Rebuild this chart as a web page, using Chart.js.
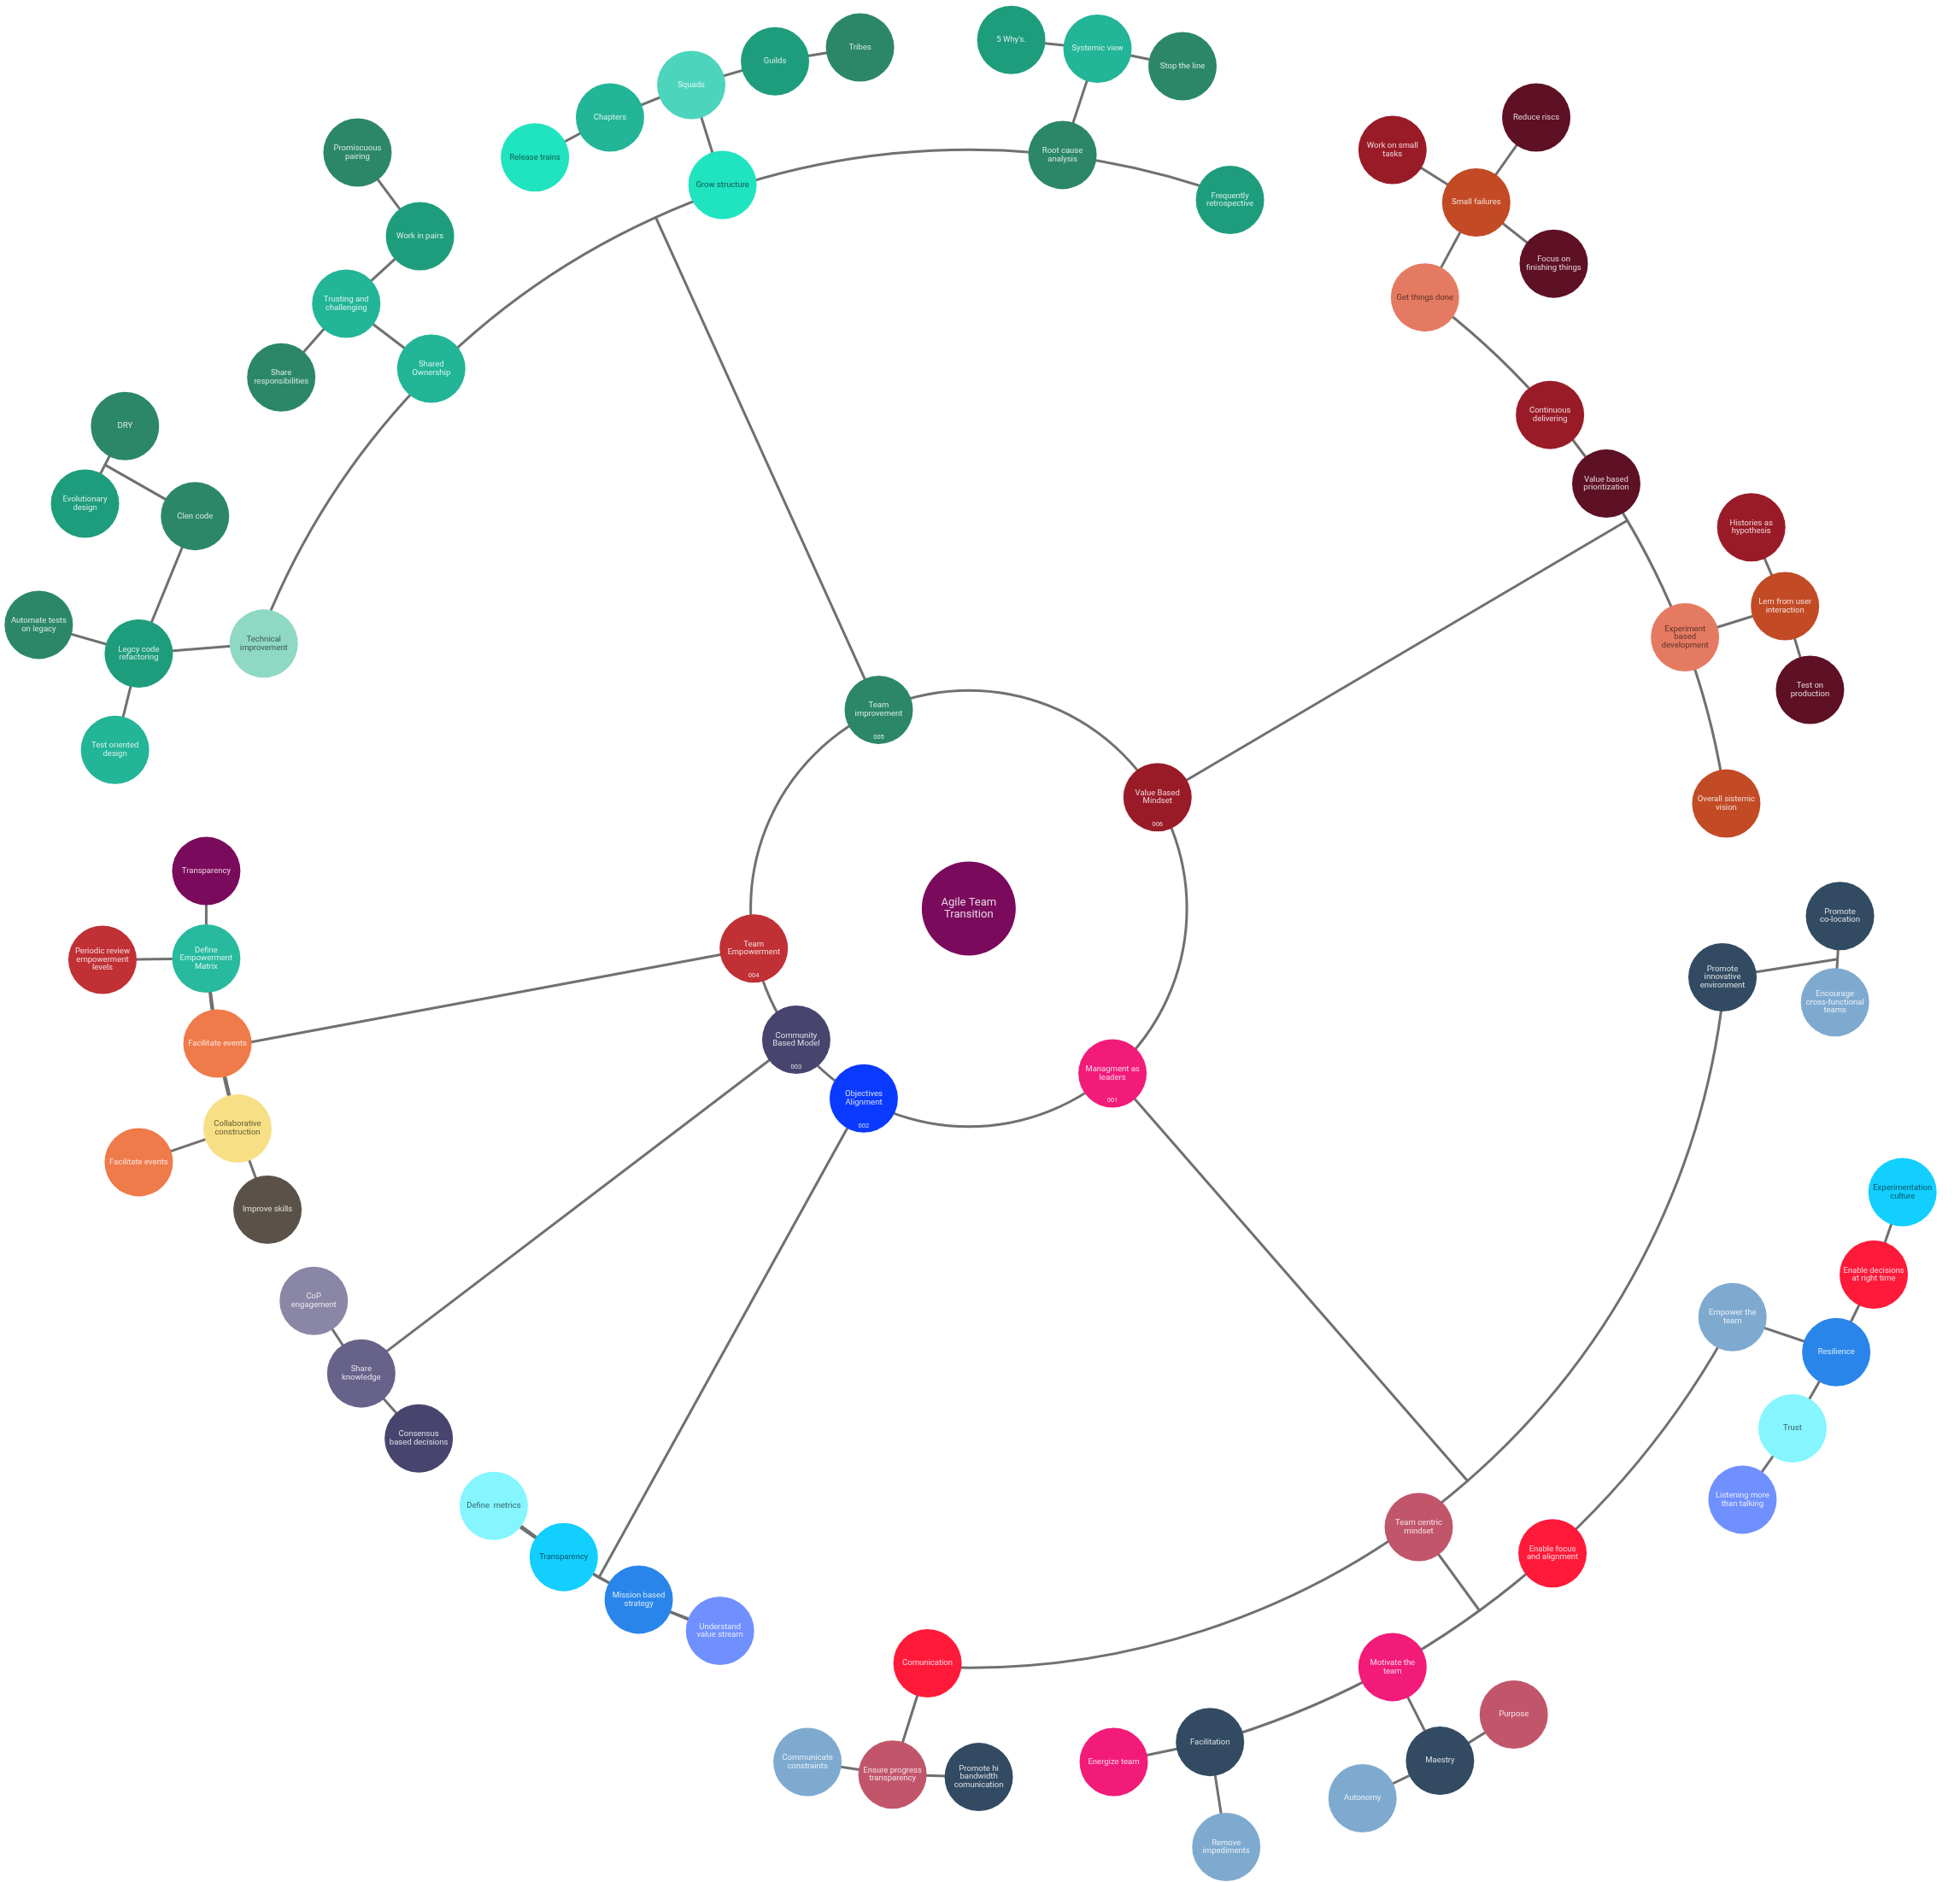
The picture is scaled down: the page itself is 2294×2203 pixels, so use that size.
<!DOCTYPE html>
<html lang="en">
<head>
<meta charset="UTF-8">
<title>Agile Team Transition</title>
<script src="https://cdn.jsdelivr.net/npm/chart.js@4.4.0/dist/chart.umd.min.js"></script>
<style>
  body { margin: 0; background: #ffffff; }
  #wrap { width: 2294px; height: 2203px; }
</style>
</head>
<body>
<div id="wrap"><canvas id="mindmap" width="2294" height="2203"></canvas></div>
<script>
// node ids, labels and layout coordinates (in the 1568 x 1506 plane)
const ids = [
  'root', 'ti', 'vbm', 'mal', 'oa', 'cbm', 'te',
  'gs', 'rca', 'fr', 'so', 'tim', 'sq', 'ch', 'rt', 'gu', 'tr', 'wy', 'sv', 'sl',
  'pp', 'wp', 'tc', 'sr', 'dry', 'ed', 'cc', 'at', 'lc', 'tod',
  'gtd', 'cd', 'vbp', 'ebd', 'osv', 'sf', 'wst', 'rr', 'ff', 'hh', 'lu', 'tp',
  'pie', 'pcl', 'ecf', 'tcm', 'com', 'ept', 'ccn', 'phb',
  'ett', 'res', 'edr', 'ec', 'trs', 'lm', 'efa', 'mt', 'mae', 'pur', 'aut', 'fac', 'eng', 'rim',
  'sk', 'cop', 'cbd', 'dm', 'tra', 'mbs', 'uvs',
  'dem', 'tpy', 'prl', 'fe', 'col', 'fe2', 'isk'
];
const labels = [
  'Agile Team\nTransition', 'Team\nimprovement', 'Value Based\nMindset', 'Managment as\nleaders',
  'Objectives\nAlignment', 'Community\nBased Model', 'Team\nEmpowerment',
  'Grow structure', 'Root cause\nanalysis', 'Frequently\nretrospective', 'Shared\nOwnership',
  'Technical\nimprovement', 'Squads', 'Chapters', 'Release trains', 'Guilds', 'Tribes',
  "5 Why's.", 'Systemic view', 'Stop the line',
  'Promiscuous\npairing', 'Work in pairs', 'Trusting and\nchallenging', 'Share\nresponsibilities',
  'DRY', 'Evolutionary\ndesign', 'Clen code', 'Automate tests\non legacy',
  'Legcy code\nrefactoring', 'Test oriented\ndesign',
  'Get things done', 'Continuous\ndelivering', 'Value based\nprioritization',
  'Experiment\nbased\ndevelopment', 'Overall sistemic\nvision', 'Small failures',
  'Work on small\ntasks', 'Reduce riscs', 'Focus on\nfinishing things',
  'Histories as\nhypothesis', 'Lern from user\ninteraction', 'Test on\nproduction',
  'Promote\ninnovative\nenvironment', 'Promote\nco-location', 'Encourage\ncross-functional\nteams',
  'Team centric\nmindset', 'Comunication', 'Ensure progress\ntransparency',
  'Communicate\nconstraints', 'Promote hi\nbandwidth\ncomunication',
  'Empower the\nteam', 'Resilience', 'Enable decisions\nat right time', 'Experimentation\nculture',
  'Trust', 'Listening more\nthan talking', 'Enable focus\nand alignment', 'Motivate the\nteam',
  'Maestry', 'Purpose', 'Autonomy', 'Facilitation', 'Energize team', 'Remove\nimpediments',
  'Share\nknowledge', 'CoP\nengagement', 'Consensus\nbased decisions',
  'Define  metrics', 'Transparency', 'Mission based\nstrategy', 'Understand\nvalue stream',
  'Define\nEmpowerment\nMatrix', 'Transparency', 'Periodic review\nempowerment\nlevels',
  'Facilitate events', 'Collaborative\nconstruction', 'Facilitate events', 'Improve skills'
];
const xs = [
  775, 703, 926, 890, 691, 637, 603,
  578, 850, 984, 345, 211, 553, 488, 428, 620, 688, 809, 878, 946,
  286, 336, 277, 225, 100, 68, 156, 31, 111, 92,
  1140, 1240, 1285, 1348, 1381, 1181, 1114, 1229, 1243, 1401, 1428, 1448,
  1378, 1472, 1468, 1135, 742, 714, 646, 783,
  1386, 1469, 1499, 1522, 1434, 1394, 1242, 1114, 1152, 1211, 1090, 968, 891, 981,
  289, 251, 335, 395, 451, 511, 576,
  165, 165, 82, 174, 190, 111, 214
];
const ys = [
  727, 568, 638, 859, 879, 832, 759,
  148, 124, 160, 295, 515, 68, 94, 126, 49, 38, 32, 39, 53,
  122, 189, 243, 302, 341, 403, 413, 500, 523, 600,
  238, 332, 387, 510, 643, 162, 120, 94, 211, 422, 485, 552,
  782, 733, 802, 1222, 1331, 1420, 1410, 1422,
  1054, 1082, 1020, 954, 1143, 1200, 1243, 1334, 1409, 1372, 1439, 1394, 1410, 1478,
  1099, 1041, 1151, 1205, 1246, 1280, 1305,
  767, 697, 768, 835, 903, 930, 968
];
const tags = { ti: '005', vbm: '006', mal: '001', oa: '002', cbm: '003', te: '004' };

// straight connections
const links = [
  ['gs', 'sq'], ['sq', 'ch'], ['ch', 'rt'], ['sq', 'gu'], ['gu', 'tr'],
  ['rca', 'sv'], ['sv', 'wy'], ['sv', 'sl'],
  ['so', 'tc'], ['tc', 'wp'], ['wp', 'pp'], ['tc', 'sr'],
  ['tim', 'lc'], ['lc', 'at'], ['lc', 'tod'], ['lc', 'cc'], ['dry', 'ed'],
  ['gtd', 'sf'], ['sf', 'wst'], ['sf', 'rr'], ['sf', 'ff'],
  ['ebd', 'lu'], ['lu', 'hh'], ['lu', 'tp'],
  ['pcl', 'ecf'],
  ['com', 'ept'], ['ept', 'ccn'], ['ept', 'phb'],
  ['ett', 'res'], ['res', 'edr'], ['edr', 'ec'], ['res', 'trs'], ['trs', 'lm'],
  ['mt', 'mae'], ['mae', 'pur'], ['mae', 'aut'], ['fac', 'eng'], ['fac', 'rim'],
  ['sk', 'cop'], ['sk', 'cbd'], ['dm', 'tra'], ['tra', 'mbs'], ['mbs', 'uvs'],
  ['dem', 'tpy'], ['dem', 'prl'], ['fe', 'dem'], ['fe', 'col'], ['col', 'fe2'], ['col', 'isk']
];
// a node joined to the middle of another link
const joints = [['cc', 'dry', 'ed', 0.5], ['pie', 'pcl', 'ecf', 0.5]];
// parent -> children sitting on a ring around the root
const rings = [
  ['ti', ['fr', 'rca', 'gs', 'so', 'tim']],
  ['vbm', ['gtd', 'cd', 'vbp', 'ebd', 'osv']],
  ['mal', ['pie', 'tcm', 'com']],
  ['tcm', ['ett', 'efa', 'mt', 'fac']],
  ['oa', ['dm', 'tra', 'mbs', 'uvs']],
  ['cbm', ['sk']],
  ['te', ['dem', 'fe', 'col']]
];
const level1 = ['ti', 'vbm', 'mal', 'oa', 'cbm', 'te'];

// colours
const fills = {
  root: '#7a0a5c', ti: '#2b8767', vbm: '#9a1b28', mal: '#f21b7a', oa: '#0a3aff', cbm: '#47446e', te: '#c03035',
  gs: '#20e3c0', rca: '#2b8767', fr: '#1e9d7d', so: '#22b597', tim: '#8fd8c4', sq: '#4dd4bc',
  ch: '#22b597', rt: '#20e3c0', gu: '#1e9d7d', tr: '#2b8767', wy: '#1e9d7d', sv: '#22b597', sl: '#2b8767',
  pp: '#2b8767', wp: '#1e9d7d', tc: '#22b597', sr: '#2b8767', dry: '#2b8767', ed: '#1e9d7d',
  cc: '#2b8767', at: '#2b8767', lc: '#1e9d7d', tod: '#22b597',
  gtd: '#e57a62', cd: '#9a1b28', vbp: '#5e1024', ebd: '#e57a62', osv: '#c24a25', sf: '#c24a25',
  wst: '#9a1b28', rr: '#5e1024', ff: '#5e1024', hh: '#9a1b28', lu: '#c24a25', tp: '#5e1024',
  pie: '#324b63', pcl: '#324b63', ecf: '#7faad0', tcm: '#c1566b', com: '#ff1a3a', ept: '#c1566b',
  ccn: '#7faad0', phb: '#324b63', ett: '#7faad0', res: '#2a85ea', edr: '#ff1a3a', ec: '#12cfff',
  trs: '#85f5ff', lm: '#7190ff', efa: '#ff1a3a', mt: '#f21b7a', mae: '#324b63', pur: '#c1566b',
  aut: '#7faad0', fac: '#324b63', eng: '#f21b7a', rim: '#7faad0',
  sk: '#67628a', cop: '#8a86a6', cbd: '#47446e', dm: '#85f5ff', tra: '#12cfff', mbs: '#2a85ea', uvs: '#7190ff',
  dem: '#27ba9e', tpy: '#7a0a5c', prl: '#c03035', fe: '#ef7a4a', col: '#f7df85', fe2: '#ef7a4a', isk: '#5a5248'
};
const darkText = ['gs', 'rt', 'tim', 'gtd', 'ebd', 'ec', 'trs', 'dm', 'tra', 'col'];
const LINE = '#707070';

const idx = id => ids.indexOf(id);

const edgesPlugin = {
  id: 'edges',
  beforeDatasetsDraw(chart) {
    const { ctx, scales: { x, y } } = chart;
    const px = id => [x.getPixelForValue(xs[idx(id)]), y.getPixelForValue(ys[idx(id)])];
    const [cx, cy] = px('root');
    const dist = id => { const [a, b] = px(id); return Math.hypot(a - cx, b - cy); };
    const ang = id => { const [a, b] = px(id); return Math.atan2(b - cy, a - cx); };

    ctx.save();
    ctx.strokeStyle = LINE;
    ctx.lineWidth = 3;
    ctx.lineCap = 'round';

    // inner circle through the first level
    const r1 = level1.reduce((s, id) => s + dist(id), 0) / level1.length;
    ctx.beginPath();
    ctx.arc(cx, cy, r1, 0, Math.PI * 2);
    ctx.stroke();

    // rings of children
    rings.forEach(([p, kids]) => {
      const [ppx, ppy] = px(p);
      const pa = ang(p);
      const r = kids.reduce((s, k) => s + dist(k), 0) / kids.length;
      ctx.beginPath();
      ctx.moveTo(ppx, ppy);
      ctx.lineTo(cx + r * Math.cos(pa), cy + r * Math.sin(pa));
      ctx.stroke();
      let lo = 0, hi = 0;
      kids.forEach(k => {
        let d = ang(k) - pa;
        while (d > Math.PI) d -= Math.PI * 2;
        while (d < -Math.PI) d += Math.PI * 2;
        lo = Math.min(lo, d); hi = Math.max(hi, d);
      });
      if (hi > lo) {
        ctx.beginPath();
        ctx.arc(cx, cy, r, pa + lo, pa + hi);
        ctx.stroke();
      }
    });

    // straight links
    links.forEach(([a, b]) => {
      const [ax, ay] = px(a), [bx, by] = px(b);
      ctx.beginPath();
      ctx.moveTo(ax, ay);
      ctx.lineTo(bx, by);
      ctx.stroke();
    });

    joints.forEach(([a, b, c, t]) => {
      const [ax, ay] = px(a), [bx, by] = px(b), [qx, qy] = px(c);
      ctx.beginPath();
      ctx.moveTo(ax, ay);
      ctx.lineTo(bx + (qx - bx) * t, by + (qy - by) * t);
      ctx.stroke();
    });
    ctx.restore();
  }
};

const labelsPlugin = {
  id: 'nodeLabels',
  afterDatasetsDraw(chart) {
    const { ctx, scales: { x, y } } = chart;
    ctx.save();
    ctx.textAlign = 'center';
    ctx.textBaseline = 'middle';
    ids.forEach((id, i) => {
      const cx = x.getPixelForValue(xs[i]);
      const cy = y.getPixelForValue(ys[i]);
      const big = id === 'root';
      const size = big ? 13 : 9.5;
      const lh = big ? 14 : 9.6;
      ctx.font = size + 'px Roboto';
      ctx.fillStyle = darkText.includes(id) ? 'rgba(0,0,0,0.62)' : 'rgba(255,255,255,0.82)';
      const lines = labels[i].split('\n');
      lines.forEach((line, k) => {
        ctx.fillText(line, cx, cy + (k - (lines.length - 1) / 2) * lh);
      });
      if (tags[id]) {
        ctx.font = '7.5px Roboto';
        ctx.fillText(tags[id], cx, cy + 32);
      }
    });
    ctx.restore();
  }
};

new Chart(document.getElementById('mindmap'), {
  type: 'scatter',
  data: {
    datasets: [{
      data: ids.map((id, i) => ({ x: xs[i], y: ys[i] })),
      pointBackgroundColor: ids.map(id => fills[id]),
      pointBorderWidth: 0,
      pointRadius: ctx => (ctx.dataIndex === 0 ? 55 : 40),
      pointHoverRadius: ctx => (ctx.dataIndex === 0 ? 55 : 40),
      clip: false
    }]
  },
  options: {
    responsive: false,
    animation: false,
    events: [],
    layout: { padding: 0, autoPadding: false },
    plugins: { legend: { display: false }, tooltip: { enabled: false } },
    scales: {
      x: { type: 'linear', min: 0, max: 1568, display: false },
      y: { type: 'linear', min: 0, max: 1506, reverse: true, display: false }
    }
  },
  plugins: [edgesPlugin, labelsPlugin]
});
</script>
</body>
</html>
